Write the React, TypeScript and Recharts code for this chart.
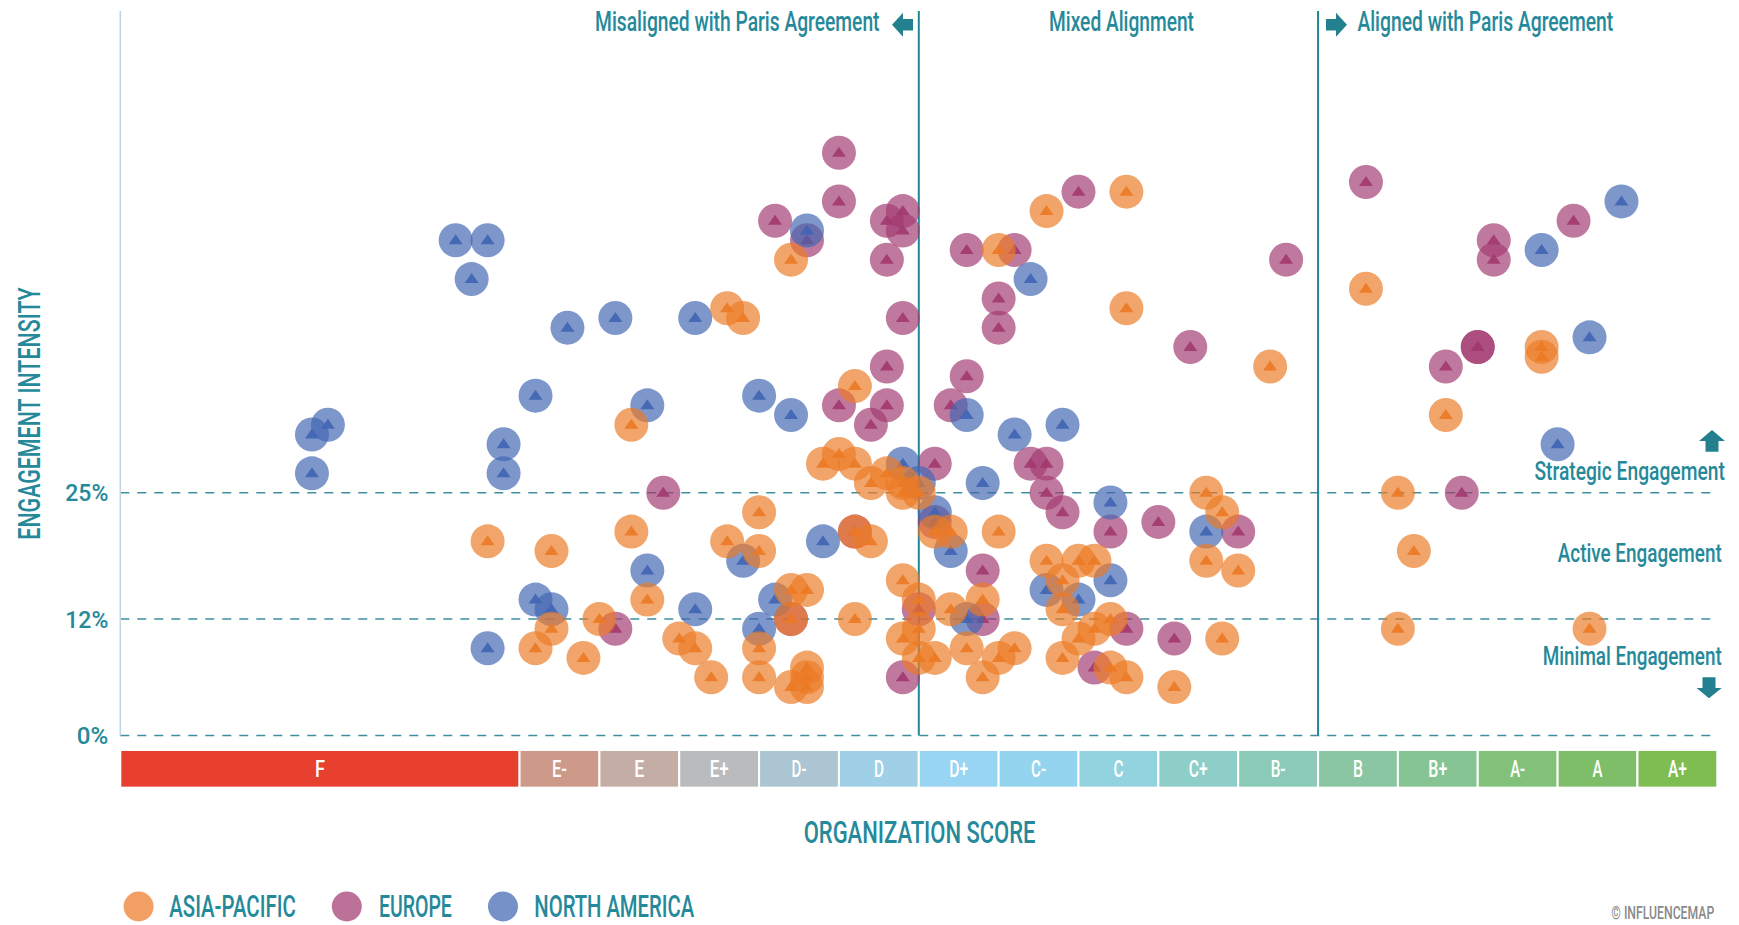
import React from 'react';
import { ScatterChart, Scatter, XAxis, YAxis, ReferenceLine, ReferenceArea } from 'recharts';

const TEAL = '#26899A';
const FONT_NAME = 'Roboto';
const FONT = 'Roboto, "Liberation Sans", sans-serif';

// Organization score grade bands (score 0-100)
const grades = ['F', 'E-', 'E', 'E+', 'D-', 'D', 'D+', 'C-', 'C', 'C+', 'B-', 'B', 'B+', 'A-', 'A', 'A+'];
const gradeStart = [0, 25, 30, 35, 40, 45, 50, 55, 60, 65, 70, 75, 80, 85, 90, 95];
const gradeEnd = [25, 30, 35, 40, 45, 50, 55, 60, 65, 70, 75, 80, 85, 90, 95, 100];
const gradeColors = [
  '#E8402F', '#CD9A8A', '#C4ADA5', '#BABBBD', '#ABC5D2', '#A0D0E8', '#98D5F2', '#95D4EE',
  '#93D3E0', '#8ECEC8', '#8CCAB8', '#8AC6A1', '#87C493', '#82C17A', '#7FBE68', '#7EBD52',
];

const yTicks = [0, 12, 25];
const alignmentBreaks = [50, 75];

// [organization score, engagement intensity %]
const asiaPacific: [number, number][] = [
  [42, 49], [38, 44], [39, 43], [32, 32], [46, 36], [44, 28], [45, 29], [46, 28], [47, 26], [48, 27],
  [49, 26], [49, 25], [50, 25], [55, 50], [58, 54], [63, 56], [63, 44], [68, 25], [69, 23], [68, 18],
  [70, 17], [69, 10], [66, 5], [72, 38], [78, 46], [89, 40], [89, 39], [83, 33], [80, 25], [81, 19],
  [80, 11], [92, 11], [23, 20], [27, 19], [27, 11], [26, 9], [29, 8], [30, 12], [32, 21], [33, 14],
  [38, 20], [40, 23], [40, 19], [35, 10], [36, 9], [37, 6], [40, 9], [40, 6], [42, 15], [43, 15],
  [42, 12], [46, 12], [47, 20], [49, 16], [50, 14], [50, 11], [49, 10], [50, 8], [51, 8], [51, 21],
  [52, 21], [52, 13], [54, 14], [53, 9], [54, 6], [55, 8], [56, 9], [55, 21], [58, 18], [60, 18],
  [61, 18], [59, 16], [59, 13], [62, 12], [61, 11], [60, 10], [59, 8], [62, 7], [63, 6], [43, 7],
  [43, 6], [42, 5], [43, 5], [46, 21],
];

const europe: [number, number][] = [
  [45, 60], [45, 55], [41, 53], [43, 51], [48, 53], [49, 54], [49, 52], [48, 49], [49, 43], [48, 38],
  [45, 34], [48, 34], [47, 32], [34, 25], [51, 28], [53, 50], [56, 50], [55, 45], [55, 42], [60, 56],
  [67, 40], [53, 37], [52, 34], [57, 28], [58, 28], [58, 25], [59, 23], [62, 21], [65, 22], [70, 21],
  [51, 22], [46, 21], [42, 12], [54, 17], [50, 13], [49, 6], [54, 12], [63, 11], [66, 10], [61, 7],
  [31, 11], [78, 57], [91, 53], [86, 51], [86, 49], [73, 49], [85, 40], [85, 40], [83, 38], [84, 25],
];

const northAmerica: [number, number][] = [
  [21, 51], [23, 51], [22, 47], [28, 42], [26, 35], [13, 32], [12, 31], [12, 27], [24, 30], [24, 27],
  [31, 43], [36, 43], [43, 52], [33, 34], [40, 35], [42, 33], [49, 28], [50, 26], [57, 47], [53, 33],
  [56, 31], [59, 32], [54, 26], [62, 24], [51, 23], [52, 19], [44, 20], [68, 21], [94, 55], [89, 50],
  [92, 41], [90, 30], [26, 14], [27, 13], [23, 9], [33, 17], [39, 18], [36, 13], [41, 14], [40, 11],
  [53, 12], [58, 15], [60, 14], [62, 16],
];

const regionNames = ['ASIA-PACIFIC', 'EUROPE', 'NORTH AMERICA'];
const regionColors = ['#EC7A25', '#A23A70', '#4165B3'];

const toRows = (pts: [number, number][]) => pts.map(([x, y]) => ({ x, y }));

let measureCtx: CanvasRenderingContext2D | null = null;
const measure = (text: string, size: number, weight: number) => {
  if (!measureCtx) measureCtx = document.createElement('canvas').getContext('2d');
  if (!measureCtx) return text.length * size * 0.5;
  measureCtx.font = `${weight} ${size}px ${FONT_NAME}`;
  return measureCtx.measureText(text).width || text.length * size * 0.5;
};

// condensed text: natural font horizontally scaled to a target width
const CText = (p: any) => {
  const { x, y, w, size, weight = 500, anchor = 'start', fill = TEAL, rotate = 0, children } = p;
  const s = w / measure(String(children), size, weight);
  return (
    <text transform={`translate(${x},${y}) rotate(${rotate}) scale(${s},1)`} x={0} y={0}
      textAnchor={anchor} fill={fill} fontFamily={FONT} fontSize={size} fontWeight={weight}>
      {children}
    </text>
  );
};

const makeShape = (color: string) => (props: any) => {
  const { cx, cy } = props;
  if (cx == null || cy == null) return <g />;
  return (
    <g>
      <circle cx={cx} cy={cy} r={17} fill={color} fillOpacity={0.68} />
      <path d={`M${cx},${cy - 6} L${cx + 7},${cy + 4} L${cx - 7},${cy + 4} Z`} fill={color} fillOpacity={0.92} />
    </g>
  );
};

const charW = (s: string) =>
  s.split('').reduce((a, c) => a + (c === '+' ? 9 : c === '-' ? 5 : c === '%' ? 20 : /[0-9]/.test(c) ? 11.5 : 10), 0);

const YTick = (props: any) => {
  const { x, y, payload } = props;
  const label = `${payload.value}%`;
  return <CText x={x - 12} y={y + 8.5} w={charW(label)} size={24} anchor="end">{label}</CText>;
};

const bandShape = (label: string, color: string) => (props: any) => {
  const { x, y, width, height } = props;
  return (
    <g>
      <rect x={x} y={y} width={width} height={height} fill={color} stroke="#ffffff" strokeWidth={2} />
      <CText x={x + width / 2} y={y + height / 2 + 8.5} w={charW(label)} size={24} anchor="middle" fill="#ffffff">
        {label}
      </CText>
    </g>
  );
};

export default function App() {
  const series = [asiaPacific, europe, northAmerica];
  const order = [1, 2, 0];
  return (
    <div style={{ position: 'absolute', left: 0, top: 0, width: 1739, height: 925, background: '#fff' }}>
      <ScatterChart width={1739} height={925} margin={{ top: 11, right: 21.7, bottom: 189.4, left: 0 }}>
        <XAxis type="number" dataKey="x" domain={[0, 100]} hide />
        <YAxis type="number" dataKey="y" domain={[0, 74.6]} ticks={yTicks} width={120.3}
          axisLine={{ stroke: '#BED5E2', strokeWidth: 1.5 }} tickLine={false} tickSize={0} tickMargin={0}
          tick={<YTick />} interval={0} />
        {grades.map((g, i) => (
          <ReferenceArea key={g} x1={gradeStart[i]} x2={gradeEnd[i]} y1={-1.48} y2={-5.36}
            ifOverflow="visible" shape={bandShape(g, gradeColors[i])} />
        ))}
        {yTicks.map((t) => (
          <ReferenceLine key={t} y={t} stroke="#3E8FA0" strokeWidth={1.5} strokeDasharray="9 8" />
        ))}
        {alignmentBreaks.map((b) => (
          <ReferenceLine key={b} x={b} stroke="#1F8798" strokeWidth={2} />
        ))}
        {order.map((i) => (
          <Scatter key={regionNames[i]} name={regionNames[i]} data={toRows(series[i])}
            isAnimationActive={false} shape={makeShape(regionColors[i])} />
        ))}
      </ScatterChart>
      <svg width={1739} height={925} style={{ position: 'absolute', left: 0, top: 0, pointerEvents: 'none' }}>
        <CText x={879.5} y={30.7} size={27} w={284.5} anchor="end">Misaligned with Paris Agreement</CText>
        <path d="M892,24.7 L903,12.7 L903,19 L913,19 L913,30.4 L903,30.4 L903,36.7 Z" fill="#23808F" />
        <CText x={1121.5} y={30.7} size={27} w={145} anchor="middle">Mixed Alignment</CText>
        <path d="M1326,19 L1336,19 L1336,12.7 L1347,24.7 L1336,36.7 L1336,30.4 L1326,30.4 Z" fill="#23808F" />
        <CText x={1357.4} y={30.7} size={27} w={256}>Aligned with Paris Agreement</CText>

        <path d="M1712,430 L1725,441 L1718.5,441 L1718.5,451.7 L1705.5,451.7 L1705.5,441 L1699,441 Z" fill="#23808F" />
        <CText x={1724.8} y={480} size={25} w={190.5} anchor="end">Strategic Engagement</CText>
        <CText x={1721.7} y={561.7} size={25} w={164} anchor="end">Active Engagement</CText>
        <CText x={1721.7} y={665} size={25} w={179} anchor="end">Minimal Engagement</CText>
        <path d="M1702.5,677.3 L1715.5,677.3 L1715.5,688 L1721.7,688 L1709,698.3 L1696.6,688 L1702.5,688 Z" fill="#23808F" />

        <CText x={40} y={413.5} size={31} w={253} anchor="middle" rotate={-90}>ENGAGEMENT INTENSITY</CText>
        <CText x={919.6} y={843.3} size={31} w={232} anchor="middle">ORGANIZATION SCORE</CText>

        <circle cx={138.6} cy={906.5} r={15} fill={regionColors[0]} fillOpacity={0.72} />
        <CText x={169.3} y={916.5} size={30.5} w={126.5}>{regionNames[0]}</CText>
        <circle cx={346.8} cy={906.5} r={15} fill={regionColors[1]} fillOpacity={0.72} />
        <CText x={378.9} y={916.5} size={30.5} w={73}>{regionNames[1]}</CText>
        <circle cx={503} cy={906.5} r={15} fill={regionColors[2]} fillOpacity={0.72} />
        <CText x={534.3} y={916.5} size={30.5} w={160}>{regionNames[2]}</CText>

        <CText x={1714.2} y={919} size={18} w={103} anchor="end" fill="#8A8A8A">© INFLUENCEMAP</CText>
      </svg>
    </div>
  );
}
